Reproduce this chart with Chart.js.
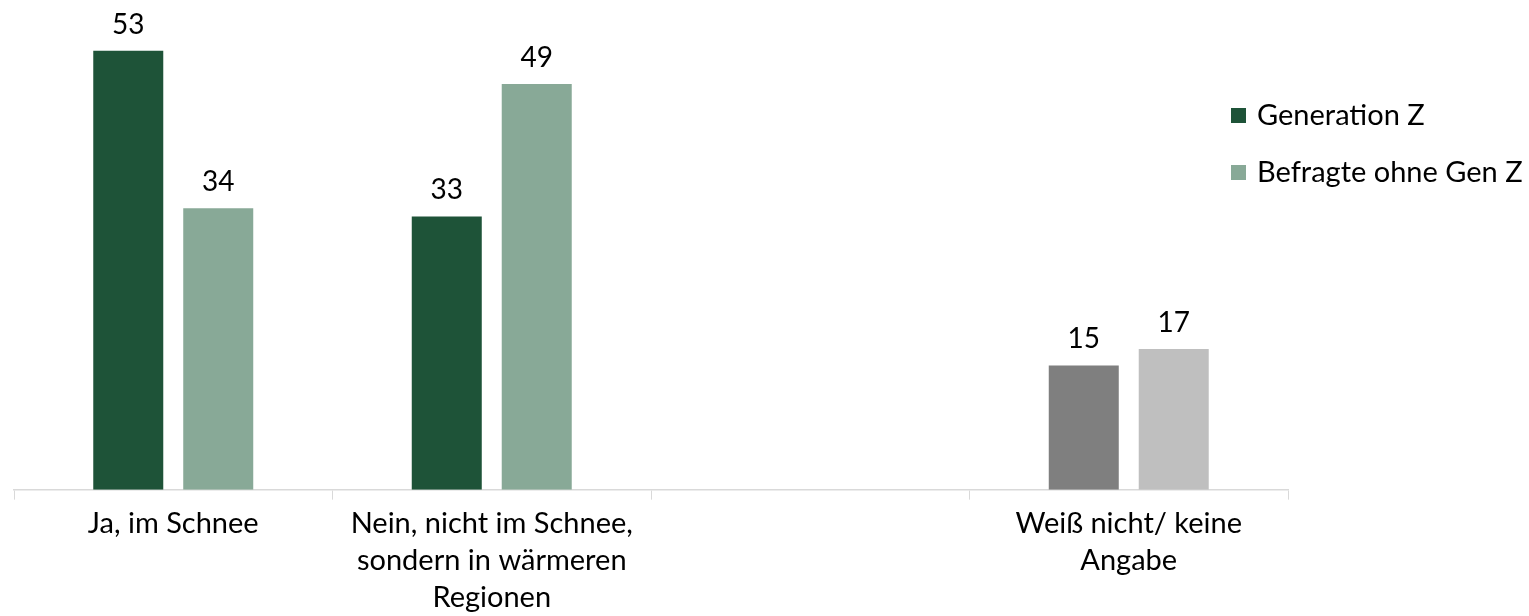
<!DOCTYPE html>
<html>
<head>
<meta charset="utf-8">
<script src="https://cdn.jsdelivr.net/npm/chart.js@4.4.1/dist/chart.umd.min.js"></script>
<style>
  html, body { margin: 0; padding: 0; background: #fff; }
  #wrap { width: 1529px; height: 616px; position: relative; }
</style>
</head>
<body>
<div id="wrap"><canvas id="chart"></canvas></div>
<script>
// categories (third slot is an empty spacer category)
const categories = [
    'Ja, im Schnee',
    ['Nein, nicht im Schnee,', 'sondern in wärmeren', 'Regionen'],
    '',
    ['Weiß nicht/ keine', 'Angabe']
];
const seriesNames = ['Generation Z', 'Befragte ohne Gen Z'];
const genZ = [53, 33, null, 15];
const withoutGenZ = [34, 49, null, 17];

const COLORS = {
    dark: '#1E5338',
    light: '#88A997',
    gray: '#7F7F7F',
    lightGray: '#BFBFBF',
    axis: '#D9D9D9',
    text: '#000000'
};
const FONT = 'Lato, "Liberation Sans", sans-serif';

// value labels above the bars
const valueLabels = {
    id: 'valueLabels',
    afterDatasetsDraw(chart) {
        const ctx = chart.ctx;
        ctx.save();
        ctx.font = '28px ' + FONT;
        ctx.fillStyle = COLORS.text;
        ctx.textAlign = 'center';
        ctx.textBaseline = 'middle';
        chart.data.datasets.forEach((ds, i) => {
            chart.getDatasetMeta(i).data.forEach((bar, j) => {
                if (ds.data[j] == null) return;
                ctx.fillText(ds.data[j], bar.x, bar.y - 26);
            });
        });
        ctx.restore();
    }
};

// legend on the right, drawn by hand
const sideLegend = {
    id: 'sideLegend',
    afterDraw(chart) {
        const ctx = chart.ctx;
        const x = 1231, ys = [115, 172];
        ctx.save();
        ctx.font = '29px ' + FONT;
        ctx.textBaseline = 'middle';
        chart.data.datasets.forEach((ds, i) => {
            ctx.fillStyle = ds.backgroundColor[0];
            ctx.fillRect(x, ys[i] - 7, 15, 15);
            ctx.fillStyle = COLORS.text;
            ctx.fillText(ds.label, x + 26, ys[i] + 1);
        });
        ctx.restore();
    }
};

const chart = new Chart(document.getElementById('chart'), {
    type: 'bar',
    data: {
        labels: categories,
        datasets: [{
            label: seriesNames[0],
            data: genZ,
            backgroundColor: [COLORS.dark, COLORS.dark, COLORS.dark, COLORS.gray]
        }, {
            label: seriesNames[1],
            data: withoutGenZ,
            backgroundColor: [COLORS.light, COLORS.light, COLORS.light, COLORS.lightGray]
        }]
    },
    options: {
        responsive: true,
        maintainAspectRatio: false,
        animation: false,
        categoryPercentage: 0.565,
        barPercentage: 0.778,
        layout: { padding: { top: 26, left: 14, right: 241, bottom: -5 } },
        scales: {
            x: {
                grid: {
                    offset: true,
                    drawOnChartArea: false,
                    drawTicks: true,
                    tickLength: 10,
                    color: COLORS.axis
                },
                border: { color: COLORS.axis, width: 1.5 },
                ticks: {
                    color: COLORS.text,
                    font: { family: FONT, size: 29, lineHeight: 1.28 },
                    padding: 5,
                    maxRotation: 0,
                    autoSkip: false
                }
            },
            y: {
                display: false,
                min: 0,
                max: 56
            }
        },
        plugins: {
            legend: { display: false },
            tooltip: { enabled: false }
        }
    },
    plugins: [valueLabels, sideLegend]
});
</script>
</body>
</html>
